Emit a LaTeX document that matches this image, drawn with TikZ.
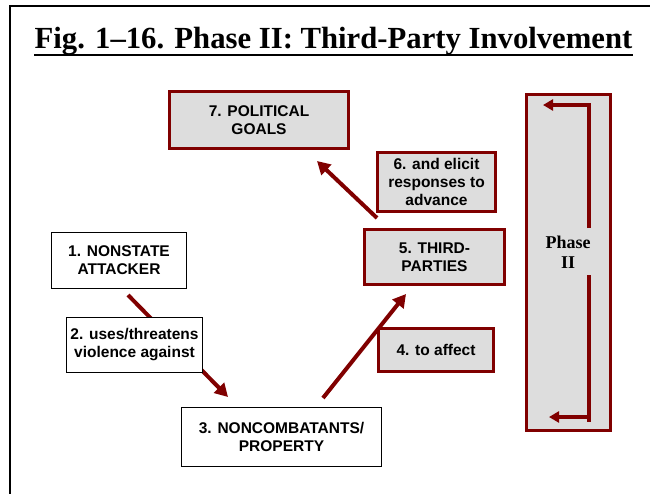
\documentclass[tikz,border=0pt]{standalone}
\usepackage{fontspec}
\setmainfont{Liberation Serif}
\setsansfont{Liberation Sans}
\usetikzlibrary{arrows.meta,backgrounds}
\definecolor{dred}{RGB}{128,0,0}
\definecolor{lgray}{RGB}{221,221,221}
\begin{document}
\begin{tikzpicture}[x=1pt,y=-1pt,
  boxtext/.style={inner sep=0pt,align=center,font=\sffamily\bfseries\fontsize{15.5}{18}\selectfont},
  redbox/.style={boxtext,draw=dred,line width=3pt,fill=lgray},
  whitebox/.style={boxtext,draw=black,line width=1.3pt,fill=white},
  bigarrow/.style={draw=dred,line width=4pt,-{Triangle[length=13pt,width=14pt]}},
  smallarrow/.style={draw=dred,line width=4pt,-{Triangle[length=10pt,width=11pt]}},
  ]
\useasboundingbox (0,0) rectangle (650,493);
% outer frame
\draw[line width=2pt] (10,495) -- (10,5.5) -- (652,5.5);
% title
\node[anchor=base,inner sep=0pt,font=\rmfamily\bfseries\fontsize{30.7}{34}\selectfont] (title) at (333.5,48) {Fig. 1--16. Phase II: Third-Party Involvement};
\draw[line width=2.5pt] (title.base west) ++(0,7) coordinate (ul1) -- (ul1 -| title.base east);
% nodes
\node[redbox,minimum width=179pt,minimum height=57pt] (n7) at (259,120) {7. POLITICAL\\GOALS};
\node[redbox,minimum width=118pt,minimum height=59pt] (n6) at (436.5,182) {6. and elicit\\responses to\\advance};
\node[redbox,minimum width=140pt,minimum height=55pt] (n5) at (434.5,257) {5. THIRD-\\PARTIES};
\node[redbox,minimum width=115pt,minimum height=43pt] (n4) at (436,350) {4. to affect};
\node[whitebox,minimum width=135pt,minimum height=56pt] (n1) at (119,260.5) {1. NONSTATE\\ATTACKER};
\node[whitebox,minimum width=136pt,minimum height=55pt] (n2) at (134.5,345) {2. uses/threatens\\violence against};
\node[whitebox,minimum width=200pt,minimum height=59pt] (n3) at (281.5,437) {3. NONCOMBATANTS/\\PROPERTY};
% Phase II box
\node[draw=dred,line width=3.5pt,fill=lgray,minimum width=84pt,minimum height=336pt,inner sep=0pt] (ph) at (568.5,262.5) {};
\node[inner sep=0pt,align=center,font=\rmfamily\bfseries\fontsize{18}{20}\selectfont] (phl) at (568,252) {Phase\\II};
\coordinate (pa1) at (589,228);
\coordinate (pa2) at (589,105);
\coordinate (pa3) at (543,105);
\coordinate (pb1) at (589,275);
\coordinate (pb2) at (589,422);
\coordinate (pb3) at (589,417);
\coordinate (pb4) at (549,417);
\draw[smallarrow] (pa1) -- (pa2) -- (pa3);
\draw[dred,line width=4pt] (pb1) -- (pb2);
\draw[smallarrow] (pb3) -- (pb4);
% arrows
\coordinate (a1s) at (128,295);
\coordinate (a1e) at (228,397);
\coordinate (a2s) at (323,398);
\coordinate (a2e) at (406,294);
\coordinate (a3s) at (377,218);
\coordinate (a3e) at (317,161);
\begin{scope}[on background layer]
\draw[bigarrow] (a1s) -- (a1e);
\end{scope}
\draw[bigarrow] (a2s) -- (a2e);
\draw[bigarrow] (a3s) -- (a3e);
\end{tikzpicture}
\end{document}
